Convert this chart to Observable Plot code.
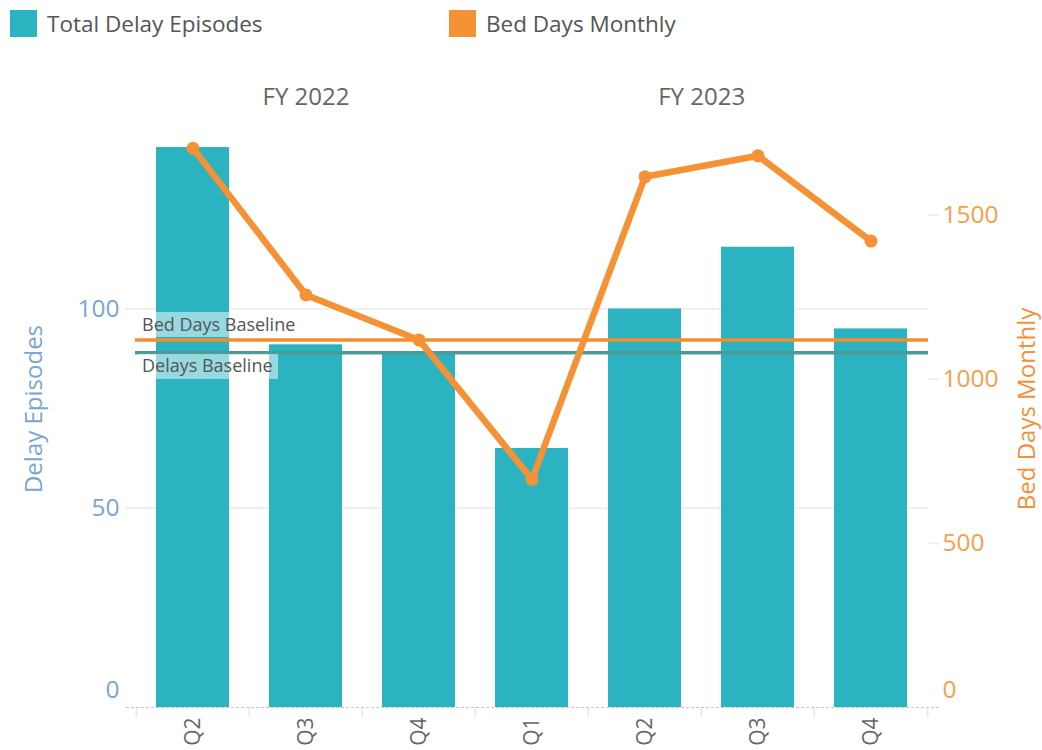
<!DOCTYPE html>
<html><head><meta charset="utf-8">
<script src="https://cdn.jsdelivr.net/npm/d3@7"></script>
<script src="https://cdn.jsdelivr.net/npm/@observablehq/plot@0.6"></script>
<style>
body{margin:0;background:#fff;font-family:"Open Sans",sans-serif;}
#wrap{position:relative;width:1042px;height:750px;overflow:hidden;}
#legend{position:absolute;left:0;top:0;width:1042px;height:50px;}
.lg{position:absolute;top:10px;height:27px;display:flex;align-items:center;font-size:22.5px;color:#555;white-space:nowrap;}
.sw{width:27px;height:27px;margin-right:10px;flex:none;}
#chart{position:absolute;left:0;top:50px;}
</style></head><body>
<div id="wrap"><div id="legend"></div><div id="chart"></div></div>
<script>
const fiscalYears = ["FY 2022","FY 2022","FY 2022","FY 2023","FY 2023","FY 2023","FY 2023"];
const quarters = ["Q2","Q3","Q4","Q1","Q2","Q3","Q4"];
const delayEpisodes = [140.5, 91, 89, 65, 100, 115.5, 95];
const bedDaysMonthly = [1704, 1257, 1120, 695, 1617, 1681, 1421];
const delaysBaseline = 89;
const bedDaysBaseline = 1120;
const leftTicks = [0, 50, 100];
const rightTicks = [0, 500, 1000, 1500];
const seriesNames = ["Total Delay Episodes", "Bed Days Monthly"];
const baselineNames = ["Bed Days Baseline", "Delays Baseline"];
const axisTitles = ["Delay Episodes", "Bed Days Monthly"];

const teal = "#2cb3c1", orange = "#f59235";
const leftColor = "#7aa6d0", rightColor = "#f5a04a";

// legend
const legend = document.getElementById("legend");
[[seriesNames[0], teal, 10], [seriesNames[1], orange, 449]].forEach(([name, c, left]) => {
  const d = document.createElement("div");
  d.className = "lg"; d.style.left = left + "px";
  d.innerHTML = `<div class="sw" style="background:${c}"></div><span>${name}</span>`;
  legend.appendChild(d);
});

const keys = quarters.map((q, i) => fiscalYears[i] + "|" + q);
const leftMax = 149.8, rightMax = 1819;
const k = leftMax / rightMax;
const rows = keys.map((key, i) => ({key, fy: fiscalYears[i], q: quarters[i], delays: delayEpisodes[i], bed: bedDaysMonthly[i], bedY: bedDaysMonthly[i] * k}));

const W = 1042, H = 700, mL = 135, mR = 114, mT = 60, mB = 43;
const step = (W - mL - mR) / keys.length;
const font = "Open Sans";
const fmtRight = d => String(Math.round(d / k));

const chart = Plot.plot({
  width: W, height: H, marginLeft: mL, marginRight: mR, marginTop: mT, marginBottom: mB,
  style: {fontFamily: font, background: "white", overflow: "visible"},
  x: {domain: keys, paddingInner: 0.35, paddingOuter: 0.175, align: 0.5, axis: null},
  y: {domain: [0, leftMax], axis: null},
  marks: [
    Plot.gridY(leftTicks.filter(v => v > 0), {stroke: "#ebebeb", strokeOpacity: 1, strokeWidth: 1.5}),
    Plot.axisY(leftTicks.filter(v => v > 0), {anchor: "left", tickSize: 10, tickPadding: 6, stroke: "#ebebeb", strokeWidth: 1.5, fill: leftColor, fontSize: 24.5, label: null}),
    Plot.axisY([0], {anchor: "left", tickSize: 0, tickPadding: 16, dy: -17, fill: leftColor, fontSize: 24.5, label: null}),
    Plot.axisY(rightTicks.filter(v => v > 0).map(v => v * k), {anchor: "right", tickSize: 10, tickPadding: 4, stroke: "#ebebeb", strokeWidth: 1.5, fill: rightColor, fontSize: 24.5, tickFormat: fmtRight, label: null}),
    Plot.axisY([0], {anchor: "right", tickSize: 0, tickPadding: 14, dy: -17, fill: rightColor, fontSize: 24.5, tickFormat: fmtRight, label: null}),
    Plot.axisX(keys, {anchor: "bottom", tickSize: 0, tickPadding: 10, tickRotate: -90, fill: "#666", fontSize: 21, tickFormat: d => d.split("|")[1], label: null}),
    Plot.ruleX(keys, {x: d => d, y1: 0, y2: -10 / ((H - mT - mB) / leftMax), dx: -step / 2, stroke: "#e6e6e6", strokeWidth: 1.5}),
    Plot.ruleX(keys.slice(-1), {x: d => d, y1: 0, y2: -10 / ((H - mT - mB) / leftMax), dx: step / 2, stroke: "#e6e6e6", strokeWidth: 1.5}),
    Plot.barY(rows, {x: "key", y: "delays", fill: teal}),
    Plot.ruleY([0], {stroke: "#c8c8c8", strokeDasharray: "3,2", strokeWidth: 1, insetLeft: -9, insetRight: -13}),
    Plot.ruleY([bedDaysBaseline * k], {stroke: "#f28e2b", strokeWidth: 3.5}),
    Plot.ruleY([delaysBaseline], {stroke: "#4a9b95", strokeWidth: 3.5}),
    Plot.text([bedDaysBaseline * k], {y: d => d, text: () => baselineNames[0], frameAnchor: "left", textAnchor: "start", lineAnchor: "bottom", dx: 6.5, dy: -9.4, fill: "#555", fontSize: 18, className: "blabel"}),
    Plot.text([delaysBaseline], {y: d => d, text: () => baselineNames[1], frameAnchor: "left", textAnchor: "start", lineAnchor: "bottom", dx: 6.5, dy: 19.6, fill: "#555", fontSize: 18, className: "blabel"}),
    Plot.line(rows, {x: "key", y: "bedY", stroke: orange, strokeWidth: 6.5, strokeLinejoin: "round", strokeLinecap: "round"}),
    Plot.dot(rows, {x: "key", y: "bedY", r: 6.5, fill: orange, stroke: null}),
    Plot.text([fiscalYears[0]], {x: () => keys[1], text: d => d, frameAnchor: "top", lineAnchor: "middle", dy: -13, fill: "#666", fontSize: 24}),
    Plot.text([fiscalYears[3]], {x: () => keys[4], text: d => d, frameAnchor: "top", lineAnchor: "middle", dy: -13, dx: step / 2, fill: "#666", fontSize: 24}),
    Plot.text([axisTitles[0]], {text: d => d, frameAnchor: "left", textAnchor: "middle", rotate: -90, dx: -101, lineAnchor: "middle", fill: leftColor, fontSize: 24}),
    Plot.text([axisTitles[1]], {text: d => d, frameAnchor: "right", textAnchor: "middle", rotate: -90, dx: 99, lineAnchor: "middle", fill: "#f3913a", fontSize: 24})
  ]
});
document.getElementById("chart").appendChild(chart);

// translucent label boxes behind baseline labels
const ns = "http://www.w3.org/2000/svg";
chart.querySelectorAll("g.blabel text").forEach(t => {
  const b = t.getBBox();
  const r = document.createElementNS(ns, "rect");
  r.setAttribute("x", b.x - 4.5);
  r.setAttribute("y", b.y + 0.5);
  r.setAttribute("width", b.width + 10);
  r.setAttribute("height", b.height + 1);
  r.setAttribute("fill", "white");
  r.setAttribute("fill-opacity", "0.5");
  r.setAttribute("stroke", "none");
  const tr = t.getAttribute("transform");
  if (tr) r.setAttribute("transform", tr);
  t.parentNode.insertBefore(r, t);
});
</script>
</body></html>
